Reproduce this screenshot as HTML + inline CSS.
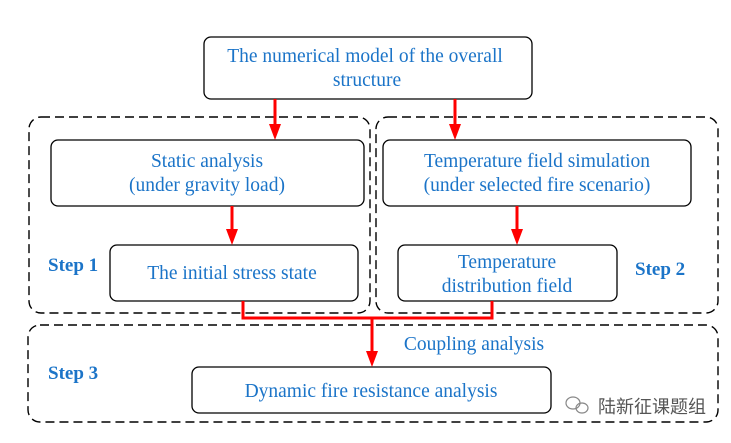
<!DOCTYPE html>
<html><head><style>
html,body{margin:0;padding:0;background:#fff;}
svg text{font-family:"Liberation Serif",serif;fill:#1b74c8;}
</style></head><body>
<svg width="731" height="438" viewBox="0 0 731 438" xmlns="http://www.w3.org/2000/svg">
<g fill="none" stroke="#000" stroke-width="1.4" stroke-dasharray="9,5">
<rect x="29" y="117" width="341" height="196" rx="12"/>
<rect x="376" y="117" width="342" height="196" rx="12"/>
<rect x="28" y="325" width="690" height="97" rx="12"/>
</g>
<g fill="#fff" stroke="#000" stroke-width="1.3">
<rect x="204" y="37" width="328" height="62" rx="7"/>
<rect x="51" y="140" width="313" height="66" rx="7"/>
<rect x="110" y="245" width="248" height="56" rx="7"/>
<rect x="383" y="140" width="308" height="66" rx="7"/>
<rect x="398" y="245" width="219" height="56" rx="7"/>
<rect x="192" y="367" width="359" height="46" rx="7"/>
</g>
<g stroke="#f00" stroke-width="3" fill="none">
<line x1="275" y1="99" x2="275" y2="130"/><path d="M269,124 L281,124 L275,140 Z" fill="#f00" stroke="none"/>
<line x1="455" y1="99" x2="455" y2="130"/><path d="M449,124 L461,124 L455,140 Z" fill="#f00" stroke="none"/>
<line x1="232" y1="206" x2="232" y2="235"/><path d="M226,229 L238,229 L232,245 Z" fill="#f00" stroke="none"/>
<line x1="517" y1="206" x2="517" y2="235"/><path d="M511,229 L523,229 L517,245 Z" fill="#f00" stroke="none"/>
<polyline points="243,301 243,318 492,318 492,301"/>
<line x1="372" y1="318" x2="372" y2="357"/><path d="M366,351 L378,351 L372,367 Z" fill="#f00" stroke="none"/>
</g>
<g font-size="19.5" text-anchor="middle">
<text x="365" y="62">The numerical model of the overall</text>
<text x="367" y="86">structure</text>
<text x="207" y="167">Static analysis</text>
<text x="207" y="191">(under gravity load)</text>
<text x="232" y="279">The initial stress state</text>
<text x="537" y="167">Temperature field simulation</text>
<text x="537" y="191">(under selected fire scenario)</text>
<text x="507" y="268">Temperature</text>
<text x="507" y="292">distribution field</text>
<text x="474" y="350">Coupling analysis</text>
<text x="371" y="397">Dynamic fire resistance analysis</text>
</g>
<g font-size="19" font-weight="bold">
<text x="48" y="271">Step 1</text>
<text x="635" y="275">Step 2</text>
<text x="48" y="379">Step 3</text>
</g>
<text x="598" y="413" font-size="18" style="fill:#555;font-family:'Liberation Sans','Noto Sans CJK SC',sans-serif">陆新征课题组</text>
<g fill="none" stroke="#888" stroke-width="1.2"><ellipse cx="573" cy="403" rx="7" ry="6"/><ellipse cx="582" cy="408" rx="6" ry="5"/></g>
</svg>
</body></html>
